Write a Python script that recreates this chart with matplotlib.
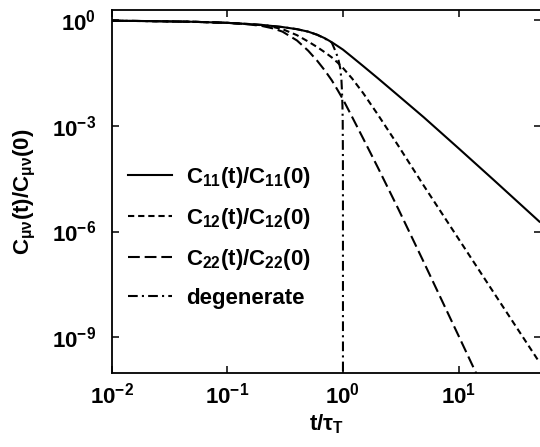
import numpy as np
import matplotlib
matplotlib.use("Agg")
import matplotlib.pyplot as plt
from matplotlib.ticker import NullLocator

plt.rcParams.update({
    "font.family": ["Liberation Sans", "DejaVu Sans"],
    "font.weight": "bold",
    "axes.labelweight": "bold",
    "mathtext.fontset": "custom",
    "mathtext.rm": "Liberation Sans:bold",
    "mathtext.it": "Liberation Sans:bold",
    "mathtext.bf": "Liberation Sans:bold",
    "mathtext.sf": "Liberation Sans:bold",
    "mathtext.default": "regular",
    "lines.scale_dashes": False,
})

# time in units of tau_T and log10 of the normalised correlation functions
t_11 = [0.01, 0.02, 0.05, 0.1, 0.2, 0.3, 0.4, 0.5, 0.6, 0.7, 0.8, 0.9, 1.0,
        1.2, 1.5, 2.0, 3.0, 5.0, 10.0, 20.0, 50.0]
log_c11 = [-0.02, -0.03, -0.05, -0.08, -0.14, -0.20, -0.26, -0.33, -0.42, -0.52,
           -0.63, -0.74, -0.84, -1.05, -1.31, -1.65, -2.14, -2.76, -3.64, -4.53,
           -5.72]

t_12 = [0.01, 0.02, 0.05, 0.1, 0.15, 0.2, 0.25, 0.3, 0.4, 0.5, 0.6, 0.7, 0.8,
        0.9, 1.0, 1.2, 1.5, 2.0, 3.0, 5.0, 10.0, 20.0, 50.0]
log_c12 = [-0.02, -0.03, -0.05, -0.08, -0.11, -0.15, -0.20, -0.26, -0.43, -0.61,
           -0.77, -0.92, -1.06, -1.21, -1.36, -1.66, -2.08, -2.68, -3.56, -4.70,
           -6.21, -7.72, -9.71]

t_22 = [0.01, 0.02, 0.05, 0.1, 0.15, 0.2, 0.25, 0.3, 0.4, 0.5, 0.6, 0.7, 0.8,
        0.9, 1.0, 1.2, 1.5, 2.0, 3.0, 5.0, 10.0, 15.0]
log_c22 = [-0.02, -0.03, -0.05, -0.08, -0.12, -0.17, -0.24, -0.33, -0.58, -0.87,
           -1.16, -1.44, -1.71, -1.99, -2.25, -2.75, -3.37, -4.18, -5.35, -6.87,
           -8.96, -10.19]

t_deg = [0.01, 0.02, 0.05, 0.1, 0.2, 0.3, 0.4, 0.5, 0.6, 0.7, 0.8, 0.85, 0.888,
         0.92, 0.948, 0.97, 0.98, 0.99, 0.995, 0.999, 0.9999, 0.99999,
         0.999999, 0.9999999, 0.99999999]
log_cdeg = [-0.02, -0.03, -0.05, -0.08, -0.14, -0.20, -0.26, -0.33, -0.42, -0.53,
            -0.64, -0.84, -1.00, -1.17, -1.38, -1.70, -2.00, -2.45, -2.85, -3.85,
            -5.25, -6.65, -8.05, -9.45, -10.85]

labels = [r"$C_{11}(t)/C_{11}(0)$", r"$C_{12}(t)/C_{12}(0)$",
          r"$C_{22}(t)/C_{22}(0)$", "degenerate"]

xticks = [1e-2, 1e-1, 1e0, 1e1]
xtick_labels = [r"$10^{-2}$", r"$10^{-1}$", r"$10^{0}$", r"$10^{1}$"]
yticks = [1e-9, 1e-6, 1e-3, 1e0]
ytick_labels = [r"$10^{-9}$", r"$10^{-6}$", r"$10^{-3}$", r"$10^{0}$"]

W, H = 540, 447
fig = plt.figure(figsize=(W / 100, H / 100), dpi=100)
ax = fig.add_axes([111.7 / W, 1 - 372.5 / H, (541 - 111.7) / W, (372.5 - 10) / H])

lw = 1.5
ax.plot(t_11, 10.0 ** np.array(log_c11), color="black", lw=lw, ls="-", label=labels[0])
ax.plot(t_12, 10.0 ** np.array(log_c12), color="black", lw=lw,
        ls=(0, (4.5, 2.8)), label=labels[1])
ax.plot(t_22, 10.0 ** np.array(log_c22), color="black", lw=lw,
        ls=(0, (8.5, 3.5)), label=labels[2])
ax.plot(t_deg, 10.0 ** np.array(log_cdeg), color="black", lw=lw,
        ls=(0, (7, 3, 1.5, 3)), label=labels[3])

ax.set_xscale("log")
ax.set_yscale("log")
ax.set_xlim(0.01, 51.6)
ax.set_ylim(1e-10, 10 ** 0.284)

ax.set_xticks(xticks)
ax.set_xticklabels(xtick_labels)
ax.set_yticks(yticks)
ax.set_yticklabels(ytick_labels)
ax.xaxis.set_minor_locator(NullLocator())
ax.yaxis.set_minor_locator(NullLocator())

ax.tick_params(which="major", direction="in", length=5, width=1.1,
               top=True, right=True, labelsize=16)
ax.tick_params(axis="y", pad=11)
ax.tick_params(axis="x", pad=7)
for sp in ax.spines.values():
    sp.set_linewidth(1.3)

ax.set_xlabel(r"$t/τ_T$", fontsize=16, labelpad=3)
ax.set_ylabel(r"$C_{μν}(t)/C_{μν}(0)$", fontsize=16, labelpad=10)

leg = ax.legend(loc="upper left", bbox_to_anchor=(0.017, 0.597), frameon=False,
                fontsize=16, handlelength=2.0, handletextpad=0.6,
                labelspacing=0.72, borderaxespad=0.0)

fig.savefig("out.png", dpi=100)
